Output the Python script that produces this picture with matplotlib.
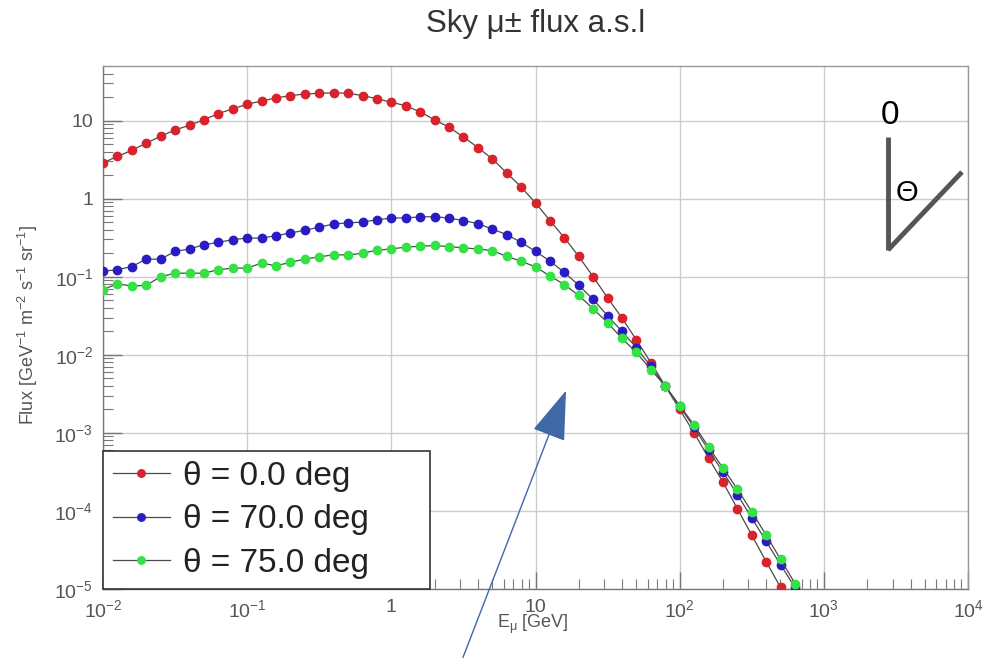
import numpy as np
import matplotlib
matplotlib.use('Agg')
import matplotlib.pyplot as plt
from matplotlib.lines import Line2D
from matplotlib.ticker import FixedLocator, FixedFormatter, LogLocator, NullFormatter

plt.rcParams['font.family'] = ['Liberation Sans', 'DejaVu Sans']
plt.rcParams['mathtext.fontset'] = 'custom'
plt.rcParams['mathtext.rm'] = 'Liberation Sans'
plt.rcParams['mathtext.it'] = 'Liberation Sans:italic'
plt.rcParams['mathtext.default'] = 'regular'

# log10 of muon energy [GeV], one point every 0.1 decade
log_energy = [-2.0, -1.9, -1.8, -1.7, -1.6, -1.5, -1.4, -1.3, -1.2, -1.1,
              -1.0, -0.9, -0.8, -0.7, -0.6, -0.5, -0.4, -0.3, -0.2, -0.1,
              0.0, 0.1, 0.2, 0.3, 0.4, 0.5, 0.6, 0.7, 0.8, 0.9,
              1.0, 1.1, 1.2, 1.3, 1.4, 1.5, 1.6, 1.7, 1.8, 1.9,
              2.0, 2.1, 2.2, 2.3, 2.4, 2.5, 2.6, 2.7, 2.8, 2.9]

# log10 of flux
log_flux_0 = [0.46, 0.54, 0.62, 0.71, 0.80, 0.88, 0.94, 1.01, 1.09, 1.15,
              1.21, 1.25, 1.29, 1.32, 1.34, 1.35, 1.355, 1.35, 1.32, 1.28,
              1.235, 1.19, 1.11, 1.01, 0.915, 0.79, 0.655, 0.51, 0.33, 0.15,
              -0.055, -0.28, -0.50, -0.74, -1.00, -1.27, -1.53, -1.81, -2.10, -2.40,
              -2.70, -3.00, -3.32, -3.63, -3.97, -4.31, -4.65, -4.98, -5.30, -5.62]
log_flux_70 = [-0.93, -0.91, -0.87, -0.775, -0.775, -0.675, -0.645, -0.59, -0.56, -0.525,
               -0.505, -0.505, -0.475, -0.44, -0.405, -0.365, -0.325, -0.31, -0.30, -0.27,
               -0.25, -0.245, -0.235, -0.23, -0.25, -0.28, -0.32, -0.39, -0.46, -0.56,
               -0.675, -0.80, -0.945, -1.11, -1.29, -1.50, -1.70, -1.91, -2.15, -2.40,
               -2.66, -2.93, -3.22, -3.50, -3.79, -4.09, -4.39, -4.69, -4.98, -5.30]
log_flux_75 = [-1.165, -1.09, -1.12, -1.11, -1.00, -0.955, -0.955, -0.955, -0.91, -0.89,
               -0.89, -0.825, -0.86, -0.815, -0.775, -0.745, -0.72, -0.72, -0.70, -0.66,
               -0.645, -0.62, -0.61, -0.60, -0.615, -0.63, -0.645, -0.665, -0.74, -0.80,
               -0.875, -0.99, -1.10, -1.24, -1.41, -1.59, -1.79, -1.97, -2.19, -2.40,
               -2.65, -2.90, -3.18, -3.45, -3.72, -4.01, -4.31, -4.62, -4.93, -5.25]

labels = ['\u03b8 = 0.0 deg', '\u03b8 = 70.0 deg', '\u03b8 = 75.0 deg']
colors = ['#d8222c', '#2a1cc4', '#35e245']

x_ticks = [1e-2, 1e-1, 1, 10, 1e2, 1e3, 1e4]
x_ticklabels = ['$10^{-2}$', '$10^{-1}$', '1', '10', '$10^{2}$', '$10^{3}$', '$10^{4}$']
y_ticks = [1e-5, 1e-4, 1e-3, 1e-2, 1e-1, 1, 10]
y_ticklabels = ['$10^{-5}$', '$10^{-4}$', '$10^{-3}$', '$10^{-2}$', '$10^{-1}$', '1', '10']

W, H = 986, 660
fig = plt.figure(figsize=(W / 100, H / 100), dpi=100)
ax = fig.add_axes([103 / W, 1 - 589 / H, (968 - 103) / W, (589 - 66) / H])

energy = 10 ** np.array(log_energy)
for lf, lab, c in zip([log_flux_0, log_flux_70, log_flux_75], labels, colors):
    ax.plot(energy, 10 ** np.array(lf), '-', color='#4a4a4a', lw=0.9,
            marker='o', ms=6, mfc=c, mec=c, label=lab, zorder=3)

ax.set_xscale('log')
ax.set_yscale('log')
ax.set_xlim(1e-2, 1e4)
ax.set_ylim(1e-5, 50)

ax.xaxis.set_major_locator(FixedLocator(x_ticks))
ax.xaxis.set_major_formatter(FixedFormatter(x_ticklabels))
ax.yaxis.set_major_locator(FixedLocator(y_ticks))
ax.yaxis.set_major_formatter(FixedFormatter(y_ticklabels))
for axis in (ax.xaxis, ax.yaxis):
    axis.set_minor_locator(LogLocator(base=10, subs=np.arange(2, 10), numticks=20))
    axis.set_minor_formatter(NullFormatter())

ax.tick_params(which='both', direction='in', top=False, right=False,
               colors='#777777', labelcolor='#555555', labelsize=14)
ax.tick_params(axis='x', which='major', length=12, width=1, pad=7)
ax.tick_params(axis='y', which='major', length=14, width=1, pad=7)
ax.tick_params(which='minor', length=7, width=0.8)

ax.grid(True, which='major', color='#cccccc', lw=1.0)
ax.set_axisbelow(True)
for sp in ax.spines.values():
    sp.set_color('#999999')
    sp.set_linewidth(1.0)
ax.spines['left'].set_color('#777777')
ax.spines['bottom'].set_color('#777777')

leg = ax.legend(loc='lower left', bbox_to_anchor=(0, 0, (430 - 103) / (968 - 103), 1),
                mode='expand', borderaxespad=0, fontsize=24, frameon=True,
                fancybox=False, handlelength=1.7, handletextpad=0.4,
                labelspacing=0.38, borderpad=0.3, markerscale=0.9)
leg.get_frame().set_edgecolor('#333333')
leg.get_frame().set_linewidth(1.2)
leg.get_frame().set_alpha(1)
for t in leg.get_texts():
    t.set_color('#222222')
leg.set_zorder(5)

# title and axis labels, placed like the ROOT canvas
fig.text(536 / W, 1 - 32 / H, 'Sky \u03bc\u00b1 flux a.s.l', ha='center', va='baseline',
         fontsize=22.5, color='#333333')
fig.text(28 / W, 1 - 325 / H, 'Flux [GeV$^{-1}$ m$^{-2}$ s$^{-1}$ sr$^{-1}$]',
         rotation=90, ha='center', va='center', fontsize=13, color='#555555')
fig.text(497 / W, 1 - 624 / H, 'E$_{\u03bc}$ [GeV]', ha='left', va='center',
         fontsize=13, color='#555555')

# blue arrow pointing into the plot
fig.add_artist(matplotlib.patches.FancyArrowPatch(
    (462, 0), (567, H - 388), transform=None,
    arrowstyle='-|>,head_length=3.2,head_width=1.1', mutation_scale=10,
    color='#3f68a8', lw=1.0, clip_on=False))

# angle sketch in the top right corner
fig.add_artist(Line2D([888, 888], [H - 137, H - 250], transform=None,
                      color='#555555', lw=3.5, solid_capstyle='butt'))
fig.add_artist(Line2D([888, 962], [H - 250, H - 172], transform=None,
                      color='#555555', lw=3.5, solid_capstyle='butt'))
fig.text(890 / W, 1 - 116 / H, '0', ha='center', va='center', fontsize=24, color='black')
fig.text(907 / W, 1 - 193 / H, '\u0398', ha='center', va='center', fontsize=21, color='black')

fig.savefig('out.png', dpi=100)
